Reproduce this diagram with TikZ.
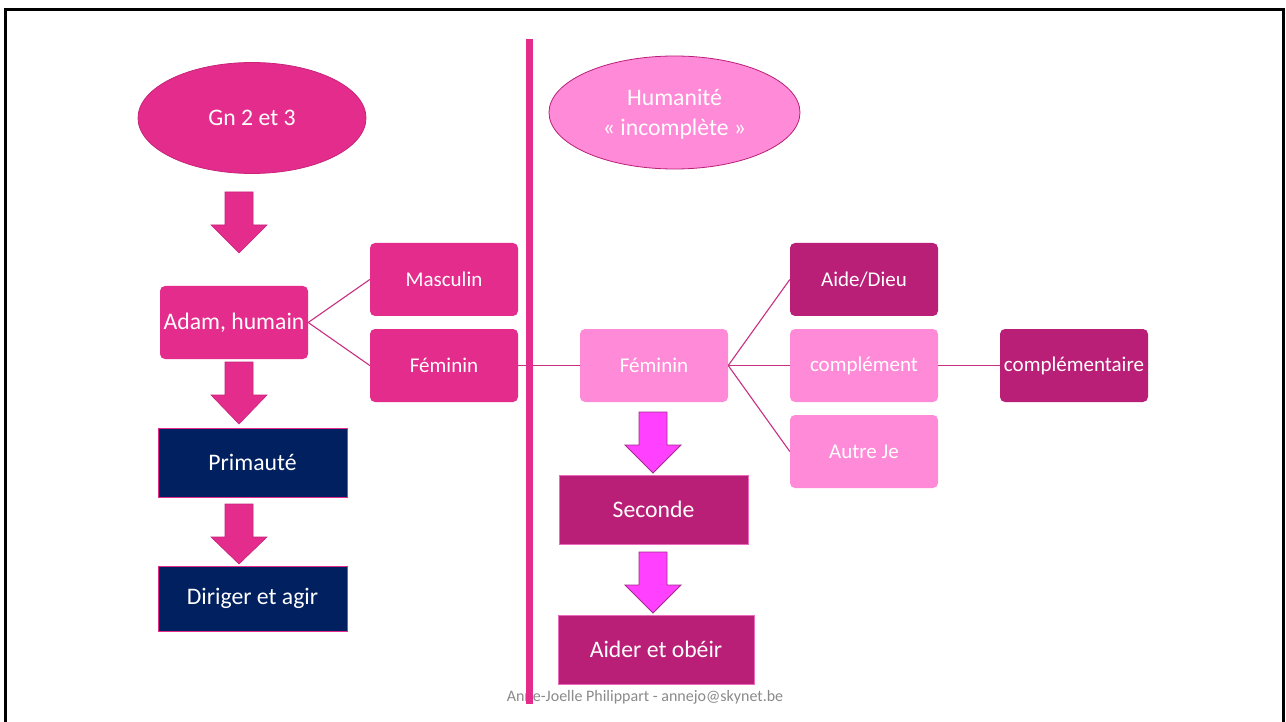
\documentclass[tikz,border=0pt]{standalone}
\usepackage{fontspec}
\setmainfont{Carlito}
\usetikzlibrary{shapes.geometric}
\definecolor{pinkA}{HTML}{E32C8C}
\definecolor{pinkAd}{HTML}{C8247A}
\definecolor{lightpink}{HTML}{FF8AD8}
\definecolor{magdark}{HTML}{B91F77}
\definecolor{navy}{HTML}{002060}
\definecolor{arrmag}{HTML}{FF40FF}
\definecolor{arrmagd}{HTML}{A32A8A}
\definecolor{conn}{HTML}{C72F80}
\definecolor{foot}{HTML}{8A8A8A}
\newcommand\blockarr[5]{%
  \draw[#5] (#1-14,#2) -- (#1+14,#2) -- (#1+14,#3) -- (#1+28,#3) -- (#1,#4) -- (#1-28,#3) -- (#1-14,#3) -- cycle;}
\begin{document}
\begin{tikzpicture}[x=1pt,y=-1pt,
  small/.style={font=\fontsize{21}{25}\selectfont},
  big/.style={font=\fontsize{23.7}{30}\selectfont},
  rbox/.style={rectangle,rounded corners=5pt,minimum width=148pt,minimum height=73pt,inner sep=1pt,text=white,small},
  boxA/.style={rbox,fill=pinkA},
  boxL/.style={rbox,fill=lightpink},
  boxM/.style={rbox,fill=magdark},
  sbox/.style={rectangle,minimum height=69pt,inner sep=1pt,text=white,big},
  navybox/.style={sbox,fill=navy,draw=pinkA,line width=0.8pt,minimum width=189pt},
  magbox/.style={sbox,fill=magdark,draw=lightpink!70!magdark,line width=0.6pt,minimum width=189pt},
  ell/.style={ellipse,inner sep=0pt,text=white,big,align=center,line width=0.8pt},
  link/.style={draw=conn,line width=1.1pt},
  arrA/.style={fill=pinkA,draw=pinkAd,line width=0.6pt},
  arrB/.style={fill=arrmag,draw=arrmagd,line width=0.8pt}
]
\useasboundingbox (0,0) rectangle (1286,722);
\fill[white] (0,0) rectangle (1286,722);
% frame
\draw[line width=3pt,black] (5.5,722) -- (5.5,9.5) -- (1283,9.5) -- (1283,722);

% nodes
\node[ell,fill=pinkA,draw=pinkAd,minimum width=228pt,minimum height=111pt] (gn) at (252,118) {Gn 2 et 3};
\node[ell,fill=lightpink,draw=magdark,minimum width=251pt,minimum height=113pt,text depth=0pt] (hum) at (674.5,112.5) {};
\node[text=white,big,align=center,inner sep=0pt] (humt) at (674.5,114.5) {Humanité\\« incomplète »};

\node[boxA,big] (adam) at (234,322.5) {Adam, humain};
\node[boxA] (masc) at (444,279.5) {Masculin};
\node[boxA] (feml) at (444,365.5) {Féminin};
\node[navybox] (prim) at (252.5,462.5) {Primauté};
\node[navybox,minimum height=65pt] (dir) at (252.5,598.5) {Diriger et agir};

\node[boxL] (femr) at (654,365.5) {Féminin};
\node[magbox] (sec) at (653.5,509.5) {Seconde};
\node[magbox,minimum width=196pt] (aid) at (656,649.5) {Aider et obéir};

\node[boxM] (dieu) at (864,279.5) {Aide/Dieu};
\node[boxL] (compl) at (864,365.5) {complément};
\node[boxL] (autre) at (864,451.5) {Autre Je};
\node[boxM] (compt) at (1074,365.5) {complémentaire};

% connectors
\draw[link] (adam.east) -- (masc.west);
\draw[link] (adam.east) -- (feml.west);
\draw[link] (feml.east) -- (femr.west);
\draw[link] (femr.east) -- (dieu.west);
\draw[link] (femr.east) -- (compl.west);
\draw[link] (femr.east) -- (autre.west);
\draw[link] (compl.east) -- (compt.west);

% block arrows
\blockarr{239}{192}{225}{253}{arrA}
\blockarr{239}{362}{395}{424}{arrA}
\blockarr{239}{504}{537}{564}{arrA}
\blockarr{653}{412}{445}{473}{arrB}
\blockarr{653}{552}{585}{613}{arrB}

% footer
\node[text=foot,font=\fontsize{16}{19}\selectfont,inner sep=0pt,anchor=base] (foot) at (645,701) {Anne-Joelle Philippart - annejo@skynet.be};

% separator
\coordinate (sepT) at (529,39);
\coordinate (sepB) at (529,704);
\draw[pinkA,line width=7pt] (sepT) -- (sepB);
\end{tikzpicture}
\end{document}
